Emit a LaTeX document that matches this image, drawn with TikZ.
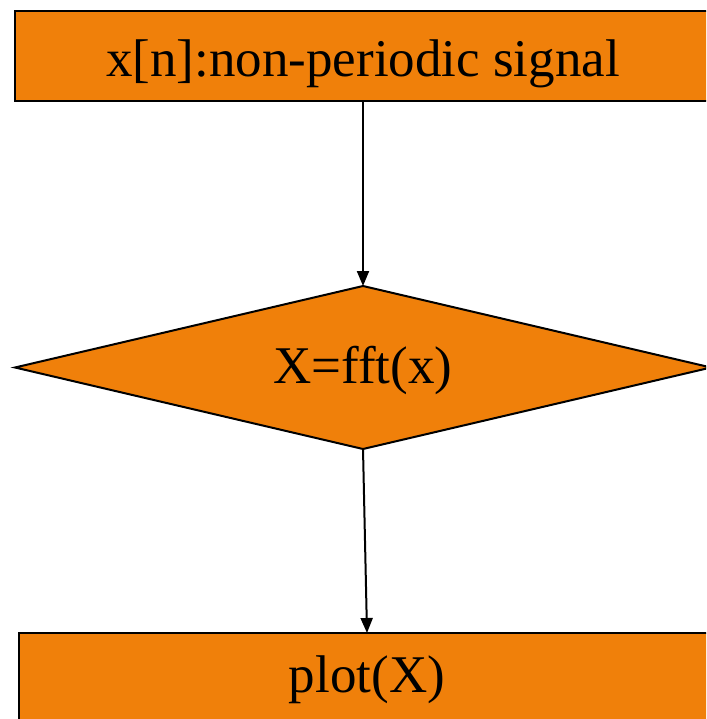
\documentclass[tikz,border=0pt]{standalone}
\usepackage{fontspec}
\setmainfont{Liberation Serif}
\usetikzlibrary{arrows.meta}
\definecolor{boxorange}{RGB}{240,128,10}
\tikzset{
  boxnode/.style={draw=black, line width=2pt, fill=boxorange, rectangle, inner sep=0pt, outer sep=0pt,
    font=\fontsize{53}{60}\selectfont},
  dectext/.style={inner sep=0pt, font=\fontsize{53}{60}\selectfont},
  decshape/.style={draw=black, line width=2pt, fill=boxorange, line join=miter},
  flowarrow/.style={draw=black, line width=2pt, -{Triangle[length=15pt,width=12pt]}}
}
\begin{document}
\begin{tikzpicture}[x=1pt,y=1pt]
\useasboundingbox (0,0) rectangle (706,-719);
\clip (0,0) rectangle (706,-719);
\node[boxnode, minimum width=696pt, minimum height=90pt, text depth=0pt] (top) at (363,-56) {\raisebox{-4pt}{x[n]:non-periodic signal}};
\coordinate (dN) at (363,-286);
\coordinate (dS) at (363,-449);
\coordinate (dW) at (15,-367.5);
\coordinate (dE) at (711,-367.5);
\filldraw[decshape] (dN) -- (dE) -- (dS) -- (dW) -- cycle;
\node[dectext] (dec) at (363,-370) {X=fft(x)};
\node[boxnode, minimum width=696pt, minimum height=94pt] (bot) at (367,-680) {plot(X)};
\draw[flowarrow] (top.south) -- (dN);
\draw[flowarrow] (dS) -- (bot.north);
\end{tikzpicture}
\end{document}
